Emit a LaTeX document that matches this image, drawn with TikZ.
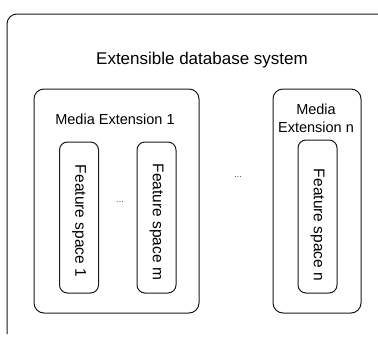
\documentclass[tikz,border=0pt]{standalone}
\usepackage{fontspec}
\setmainfont{Liberation Sans}
\begin{document}
\begin{tikzpicture}[x=1pt,y=-1pt,
  frame/.style={draw=black!90,line width=1pt},
  extbox/.style={frame,rounded corners=10pt,inner sep=0pt},
  fsbox/.style={frame,rounded corners=8pt,inner sep=0pt,minimum width=39pt,minimum height=151pt},
  title/.style={font=\fontsize{17}{20}\selectfont,inner sep=0pt},
  extlabel/.style={font=\fontsize{14.5}{18.5}\selectfont,inner sep=0pt,align=center},
  fslabel/.style={font=\fontsize{15.5}{18}\selectfont,inner sep=0pt,rotate=-90},
  gap/.style={font=\fontsize{9}{10}\selectfont,text=black!75,inner sep=0pt}]
\useasboundingbox (0,0) rectangle (378,340);

% outer system frame, open at the right and bottom
\coordinate (sysbl) at (7,334);
\coordinate (systl) at (7,14);
\coordinate (systr) at (378,14);
\draw[frame,rounded corners=10pt] (sysbl) -- (systl) -- (systr);
\node[title] (systitle) at (202,60) {Extensible database system};

% media extension 1 with its feature spaces
\node[extbox,minimum width=165pt,minimum height=224pt] (me1) at (116.5,201) {};
\node[extlabel] (me1label) at (115,119) {Media Extension 1};
\node[fsbox] (fs1) at (79,217.5) {};
\node[fslabel] (fs1label) at (79,221) {Feature space 1};
\node[fsbox] (fsm) at (156.5,217.5) {};
\node[fslabel] (fsmlabel) at (156.5,222) {Feature space m};
\node[gap] (gapa) at (120,202) {...};

% further extensions
\node[gap] (gapb) at (238,177) {...};

% media extension n
\node[extbox,minimum width=88pt,minimum height=224pt] (men) at (317,201) {};
\node[extlabel] (menlabel) at (316,118.5) {Media\\Extension n};
\node[fsbox,minimum height=153pt] (fsn) at (317.5,216.5) {};
\node[fslabel] (fsnlabel) at (317.5,225) {Feature space n};
\end{tikzpicture}
\end{document}
